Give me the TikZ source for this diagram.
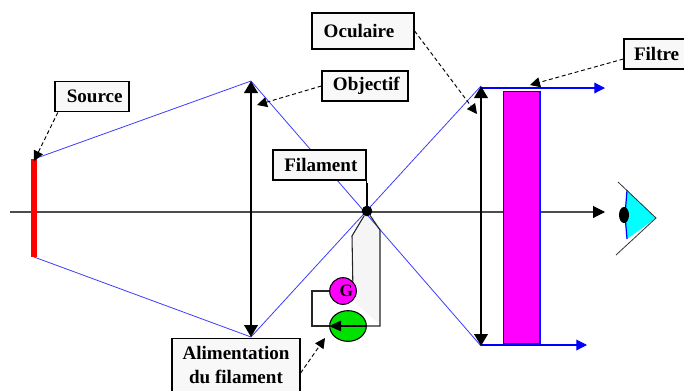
\documentclass[tikz,border=0pt]{standalone}
\usepackage{fontspec}
\setmainfont{Liberation Serif}
\usepackage{xcolor}
\usetikzlibrary{arrows.meta,shapes.geometric,positioning,calc}
\definecolor{raycol}{RGB}{60,60,255}
\definecolor{boxcol}{RGB}{248,248,248}
\definecolor{filtercol}{RGB}{255,0,255}
\definecolor{eyecol}{RGB}{0,255,255}
\definecolor{ampcol}{RGB}{0,225,0}
\definecolor{srccol}{RGB}{255,0,0}
\definecolor{edgecol}{RGB}{0,0,255}

\begin{document}
\begin{tikzpicture}[x=0.75pt,y=-0.75pt,
		label/.style={draw, line width=0.9pt, fill=boxcol, align=center, inner sep=0pt, font=\fontsize{14.3}{18}\selectfont\bfseries},
		leader/.style={line width=0.7pt, densely dashed, -{Triangle[length=7.5pt,width=7.5pt]}},
		ray/.style={raycol, line width=0.6pt},
		beam/.style={edgecol, line width=0.9pt, -{Triangle[length=8pt,width=8pt]}},
		lens/.style={line width=2pt, {Triangle[length=9pt,width=10pt]}-{Triangle[length=9pt,width=10pt]}},
		wire/.style={line width=0.8pt, black!85}]
		\useasboundingbox (0,0) rectangle (684,390);

		\coordinate (axisl) at (10,212);
		\coordinate (axisr) at (605,212);
		\coordinate (srct) at (34,159);
		\coordinate (srcb) at (34,257);
		\coordinate (objt) at (251,81);
		\coordinate (objb) at (251,337);
		\coordinate (ocut) at (481,86);
		\coordinate (ocub) at (481,346);
		\coordinate (beamst) at (481,88);
		\coordinate (beamsb) at (481,345);
		\coordinate (beamt) at (605,88);
		\coordinate (beamb) at (587,345);
		\coordinate (fil) at (367,211);

		\fill[black!4] (352,300) -- (352,236) -- (361,216) -- (373,216) -- (380,230) -- (380,325) -- cycle;

		\draw[ray] (srct) -- (objt);
		\draw[ray] (srcb) -- (objb);
		\draw[ray] (objt) -- (ocub);
		\draw[ray] (objb) -- (ocut);
		\draw[beam] (beamst) -- (beamt);
		\draw[beam] (beamsb) -- (beamb);

		\draw[black!70, line width=0.8pt, -{Triangle[length=9pt,width=9pt,black]}] (axisl) -- (axisr);

		\draw[srccol, line width=4.5pt] (srct) -- (srcb);
		\draw[lens] (objb) -- (objt);
		\draw[lens] (ocub) -- (ocut);
		\node[draw=edgecol, line width=1pt, fill=filtercol, minimum width=27.5pt, minimum height=189pt, inner sep=0pt] (filter) at (521.5,217.5) {};

		\node[draw, fill=black, circle, minimum size=7.5pt, inner sep=0pt] (dot) at (fil) {};
		\node[draw, line width=0.8pt, fill=filtercol, circle, minimum size=20pt, inner sep=0pt, font=\fontsize{13}{13}\selectfont\bfseries] (gen) at (343,291) {\hspace{5pt}G};
		\node[draw, line width=0.8pt, fill=ampcol, ellipse, minimum width=27.5pt, minimum height=23pt, inner sep=0pt] (amp) at (348,326) {};
		\draw[line width=0.9pt, -{Triangle[length=9pt,width=8pt]}] (amp.east) -- (amp.west);

		\coordinate (wirel) at (352,236);
		\coordinate (wirer) at (380,230);
		\coordinate (wirec) at (380,326);
		\coordinate (wiregl) at (312,291);
		\coordinate (wireal) at (312,326);
		\draw[wire] (gen.north east) -- (wirel) -- (dot);
		\draw[wire] (amp.east) -- (wirec) -- (wirer) -- (dot);
		\draw[wire] (gen.west) -- (wiregl) -- (wireal) -- (amp.west);

		\coordinate (eyeapex) at (656,218);
		\coordinate (eyet) at (627,190);
		\coordinate (eyeb) at (627,239);
		\coordinate (liduend) at (618,182);
		\coordinate (lidlend) at (616,255);
		\fill[eyecol] (eyet) -- (eyeapex) -- (eyeb) -- (625,215) -- cycle;
		\draw[edgecol, line width=0.9pt] (eyet) -- (625,215) -- (eyeb);
		\draw[line width=0.6pt, black!80] (liduend) -- (eyeapex) -- (lidlend);
		\node[fill=black, ellipse, minimum width=7.5pt, minimum height=12pt, inner sep=0pt] (pupil) at (624,215) {};

		\node[label, minimum width=55.5pt, minimum height=23pt] (source) at (92,96.5) {\hspace{4pt}Source};
		\node[label, minimum width=76.5pt, minimum height=27pt] (oculaire) at (363,31) {Oculaire\hspace{6pt}};
		\node[label, minimum width=64.5pt, minimum height=22.5pt] (objectif) at (365,86) {\hspace{2pt}Objectif};
		\node[label, minimum width=69.75pt, minimum height=22.5pt] (filament) at (319.5,165) {\hspace{2pt}Filament};
		\node[label, minimum width=60pt, minimum height=22.5pt, text width=60pt, align=left] (filtre) at (664,54) {\hspace{7.5pt}Filtre};
		\node[label, minimum width=96pt, minimum height=40pt] (alim) at (236,365) {Alimentation\\du filament};

		\coordinate (tipsource) at (34,161);
		\coordinate (tipobjectif) at (257,105);
		\coordinate (tipoculaire) at (477,114);
		\coordinate (tipfiltre) at (530,85);
		\coordinate (tipalim) at (325,338);
		\draw[leader] (source.205) -- (tipsource);
		\draw[leader] (objectif.west) -- (tipobjectif);
		\draw[leader] (oculaire.east) -- (tipoculaire);
		\draw[leader] (filtre.west) ++(0,5) -- (tipfiltre);
		\draw[leader] (alim.east) ++(0,8) -- (tipalim);
		\draw[line width=0.8pt] (filament.south east) -- ++(0,3) -| (dot);
	\end{tikzpicture}
\end{document}
